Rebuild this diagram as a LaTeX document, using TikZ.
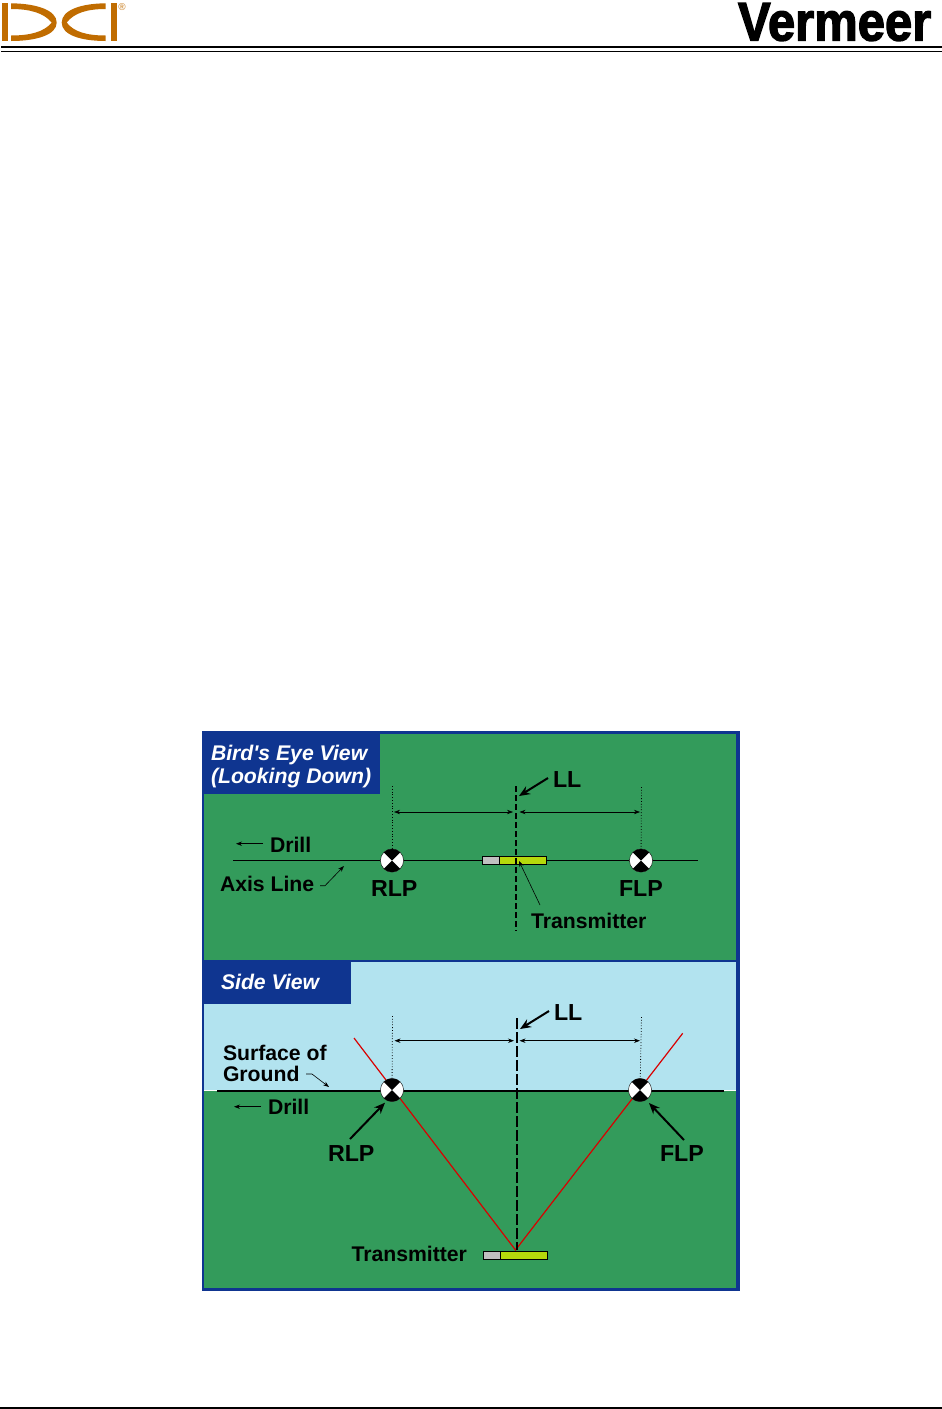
\documentclass[tikz,border=0pt]{standalone}
\usepackage{fontspec}
\usepackage{tikz}
\usetikzlibrary{arrows.meta}
\setmainfont{Liberation Sans}
\newfontfamily\logofont[FakeBold=2.5]{Liberation Sans Bold}
\definecolor{panelgreen}{HTML}{339B5B}
\definecolor{skyblue}{HTML}{B2E3EF}
\definecolor{framblue}{HTML}{0F3590}
\definecolor{limebar}{HTML}{B5D90C}
\definecolor{greybar}{HTML}{C0C0C0}
\definecolor{dciorange}{HTML}{C06C00}

\begin{document}
\begin{tikzpicture}[
  x=0.5pt, y=-0.5pt,
  every node/.style={inner sep=0pt, outer sep=0pt, text=black},
  lbl/.style={anchor=base west, font=\fontsize{10.6}{12}\selectfont\bfseries},
  biglbl/.style={anchor=base west, font=\fontsize{11.6}{14}\selectfont\bfseries},
  titlelbl/.style={anchor=base west, text=white, font=\fontsize{10.6}{12}\selectfont\bfseries\itshape},
  tipthin/.style={-{Stealth[length=3pt,width=2.2pt]}, line width=0.3pt},
  both/.style={{Stealth[length=3pt,width=2.2pt]}-{Stealth[length=3pt,width=2.2pt]}, line width=0.3pt},
  tipthick/.style={-{Stealth[length=5.5pt,width=4.5pt]}, line width=1pt},
  dotline/.style={line width=0.4pt, densely dotted},
  lltop/.style={line width=0.8pt, dash pattern=on 3.2pt off 1.3pt},
  llside/.style={line width=1pt, dash pattern=on 5.5pt off 1.5pt},
  redline/.style={draw=red!85!black, line width=0.6pt},
  greyseg/.style={draw=black, fill=greybar, line width=0.4pt, anchor=north west,
                  minimum width=8.7pt, minimum height=4pt},
  limeseg/.style={draw=black, fill=limebar, line width=0.4pt, anchor=north west,
                  minimum width=23.5pt, minimum height=4pt}
]
\useasboundingbox (0,0) rectangle (942,1409);

%% Header
\fill[dciorange] (2,3.3) rectangle (7.5,41);
\fill[dciorange] (111,3.3) rectangle (116.7,41);
\fill[dciorange] (11,3.3) .. controls (36,3.5) and (56.7,10) .. (56.7,22.6)
  .. controls (56.7,35) and (36,41) .. (11,41) -- (11,35.5)
  .. controls (30,35.5) and (44,32) .. (51.7,22.6)
  .. controls (44,13) and (30,9) .. (11,9) -- cycle;
\fill[dciorange] (105.7,3.3) .. controls (81,3.5) and (61.7,10) .. (61.7,22.6)
  .. controls (61.7,35) and (81,41) .. (105.7,41) -- (105.7,35.5)
  .. controls (87,35.5) and (74,32) .. (66.7,22.6)
  .. controls (74,13) and (87,9) .. (105.7,9) -- cycle;
\node[anchor=center, text=dciorange!70, font=\fontsize{5}{6}\selectfont\bfseries] (reg) at (122,7) {®};
\node[anchor=base west, xscale=0.9, transform shape,
      font=\logofont\fontsize{27.2}{28}\selectfont] (vermeer) at (738,40.5) {Vermeer};
\draw[line width=1pt] (1,47.3) -- (942,47.3);
\draw[line width=0.8pt] (1,51.3) -- (942,51.3);
\draw[line width=0.6pt] (0,1408) -- (942,1408);

%% Panels
\fill[framblue] (201.5,731) rectangle (740,1291);
\fill[panelgreen] (204,734) rectangle (736,959.5);
\fill[skyblue] (204,961.5) rectangle (736,1091);
\fill[panelgreen] (204,1091) rectangle (736,1288);
\fill[framblue] (204,734) rectangle (380,794);
\fill[framblue] (204,961.5) rectangle (351.3,1004.3);
\node[titlelbl] (birdone) at (211,760) {Bird\textquotesingle s Eye View};
\node[titlelbl] (birdtwo) at (211,783) {(Looking Down)};
\node[titlelbl] (sidetitle) at (221,989) {Side View};

%% Bird's eye view
\coordinate (axisL) at (233,860.7);
\coordinate (axisR) at (698,860.7);
\draw[line width=0.75pt] (axisL) -- (axisR);
\coordinate (topRLP) at (392,860.5);
\coordinate (topFLP) at (641,860.5);
\draw[dotline] (392,786) -- (topRLP);
\draw[dotline] (641.5,787) -- (topFLP);
\node[greyseg] (topgrey) at (482,856.7) {};
\node[limeseg] (toplime) at (topgrey.north east) {};
\draw[lltop] (515.7,786) -- (515.7,931);
\draw[both] (394,812) -- (513,812);
\draw[both] (519.5,812) -- (640,812);

\node[biglbl] (topLL) at (553,787) {LL};
\draw[tipthick] (548,778) -- (519,796);
\node[lbl] (topdrill) at (270,852) {Drill};
\draw[tipthin] (263,843.7) -- (236,843.7);
\node[lbl] (axistext) at (220,891) {Axis Line};
\draw[tipthin] (320,885.7) -- (325,885.7) -- (344,866);
\node[biglbl] (toprlptext) at (371,896) {RLP};
\node[biglbl] (topflptext) at (619,896) {FLP};
\node[lbl] (toptrans) at (531,928) {Transmitter};
\draw[tipthin] (540,905) -- (519,861);

%% Side view
\draw[white, line width=0.4pt] (204,1090.5) -- (736,1090.5);
\draw[line width=1.2pt] (217,1091) -- (724,1091);
\coordinate (sideRLP) at (392,1090);
\coordinate (sideFLP) at (640,1090);
\coordinate (apex) at (515.5,1250);
\draw[redline] (354,1038) -- (apex) -- (682.7,1033.3);
\draw[dotline] (392.5,1016) -- (sideRLP);
\draw[dotline] (641.5,1017) -- (sideFLP);
\draw[llside] (516.5,1018) -- (516.5,1250);
\draw[both] (394.5,1040.7) -- (514,1040.7);
\draw[both] (519.5,1040.7) -- (640,1040.7);
\node[greyseg] (sidegrey) at (483.3,1251) {};
\node[limeseg] (sidelime) at (sidegrey.north east) {};

\node[biglbl] (sideLL) at (554,1020) {LL};
\draw[tipthick] (549,1011) -- (520,1029);
\node[lbl] (surfone) at (223,1060) {Surface of};
\node[lbl] (surftwo) at (223,1081) {Ground};
\draw[tipthin] (306,1074) -- (312,1074) -- (329,1087);
\node[lbl] (sidedrill) at (268,1114) {Drill};
\draw[tipthin] (261,1106.7) -- (234,1106.7);
\node[biglbl] (siderlptext) at (328,1161) {RLP};
\node[biglbl] (sideflptext) at (660,1161.5) {FLP};
\draw[tipthick] (350,1139) -- (385,1102.7);
\draw[tipthick] (684,1140) -- (649,1103);
\node[lbl] (sidetrans) at (351.5,1261) {Transmitter};

%% Locate points
\foreach \p in {topRLP,topFLP,sideRLP,sideFLP}{
  \fill[white] (\p) circle (5.8pt);
  \fill[black] (\p) -- ++(45:5.8pt) arc (45:135:5.8pt) -- cycle;
  \fill[black] (\p) -- ++(225:5.8pt) arc (225:315:5.8pt) -- cycle;
  \draw[black, line width=0.2pt] (\p) circle (5.8pt);
}
\end{tikzpicture}
\end{document}
